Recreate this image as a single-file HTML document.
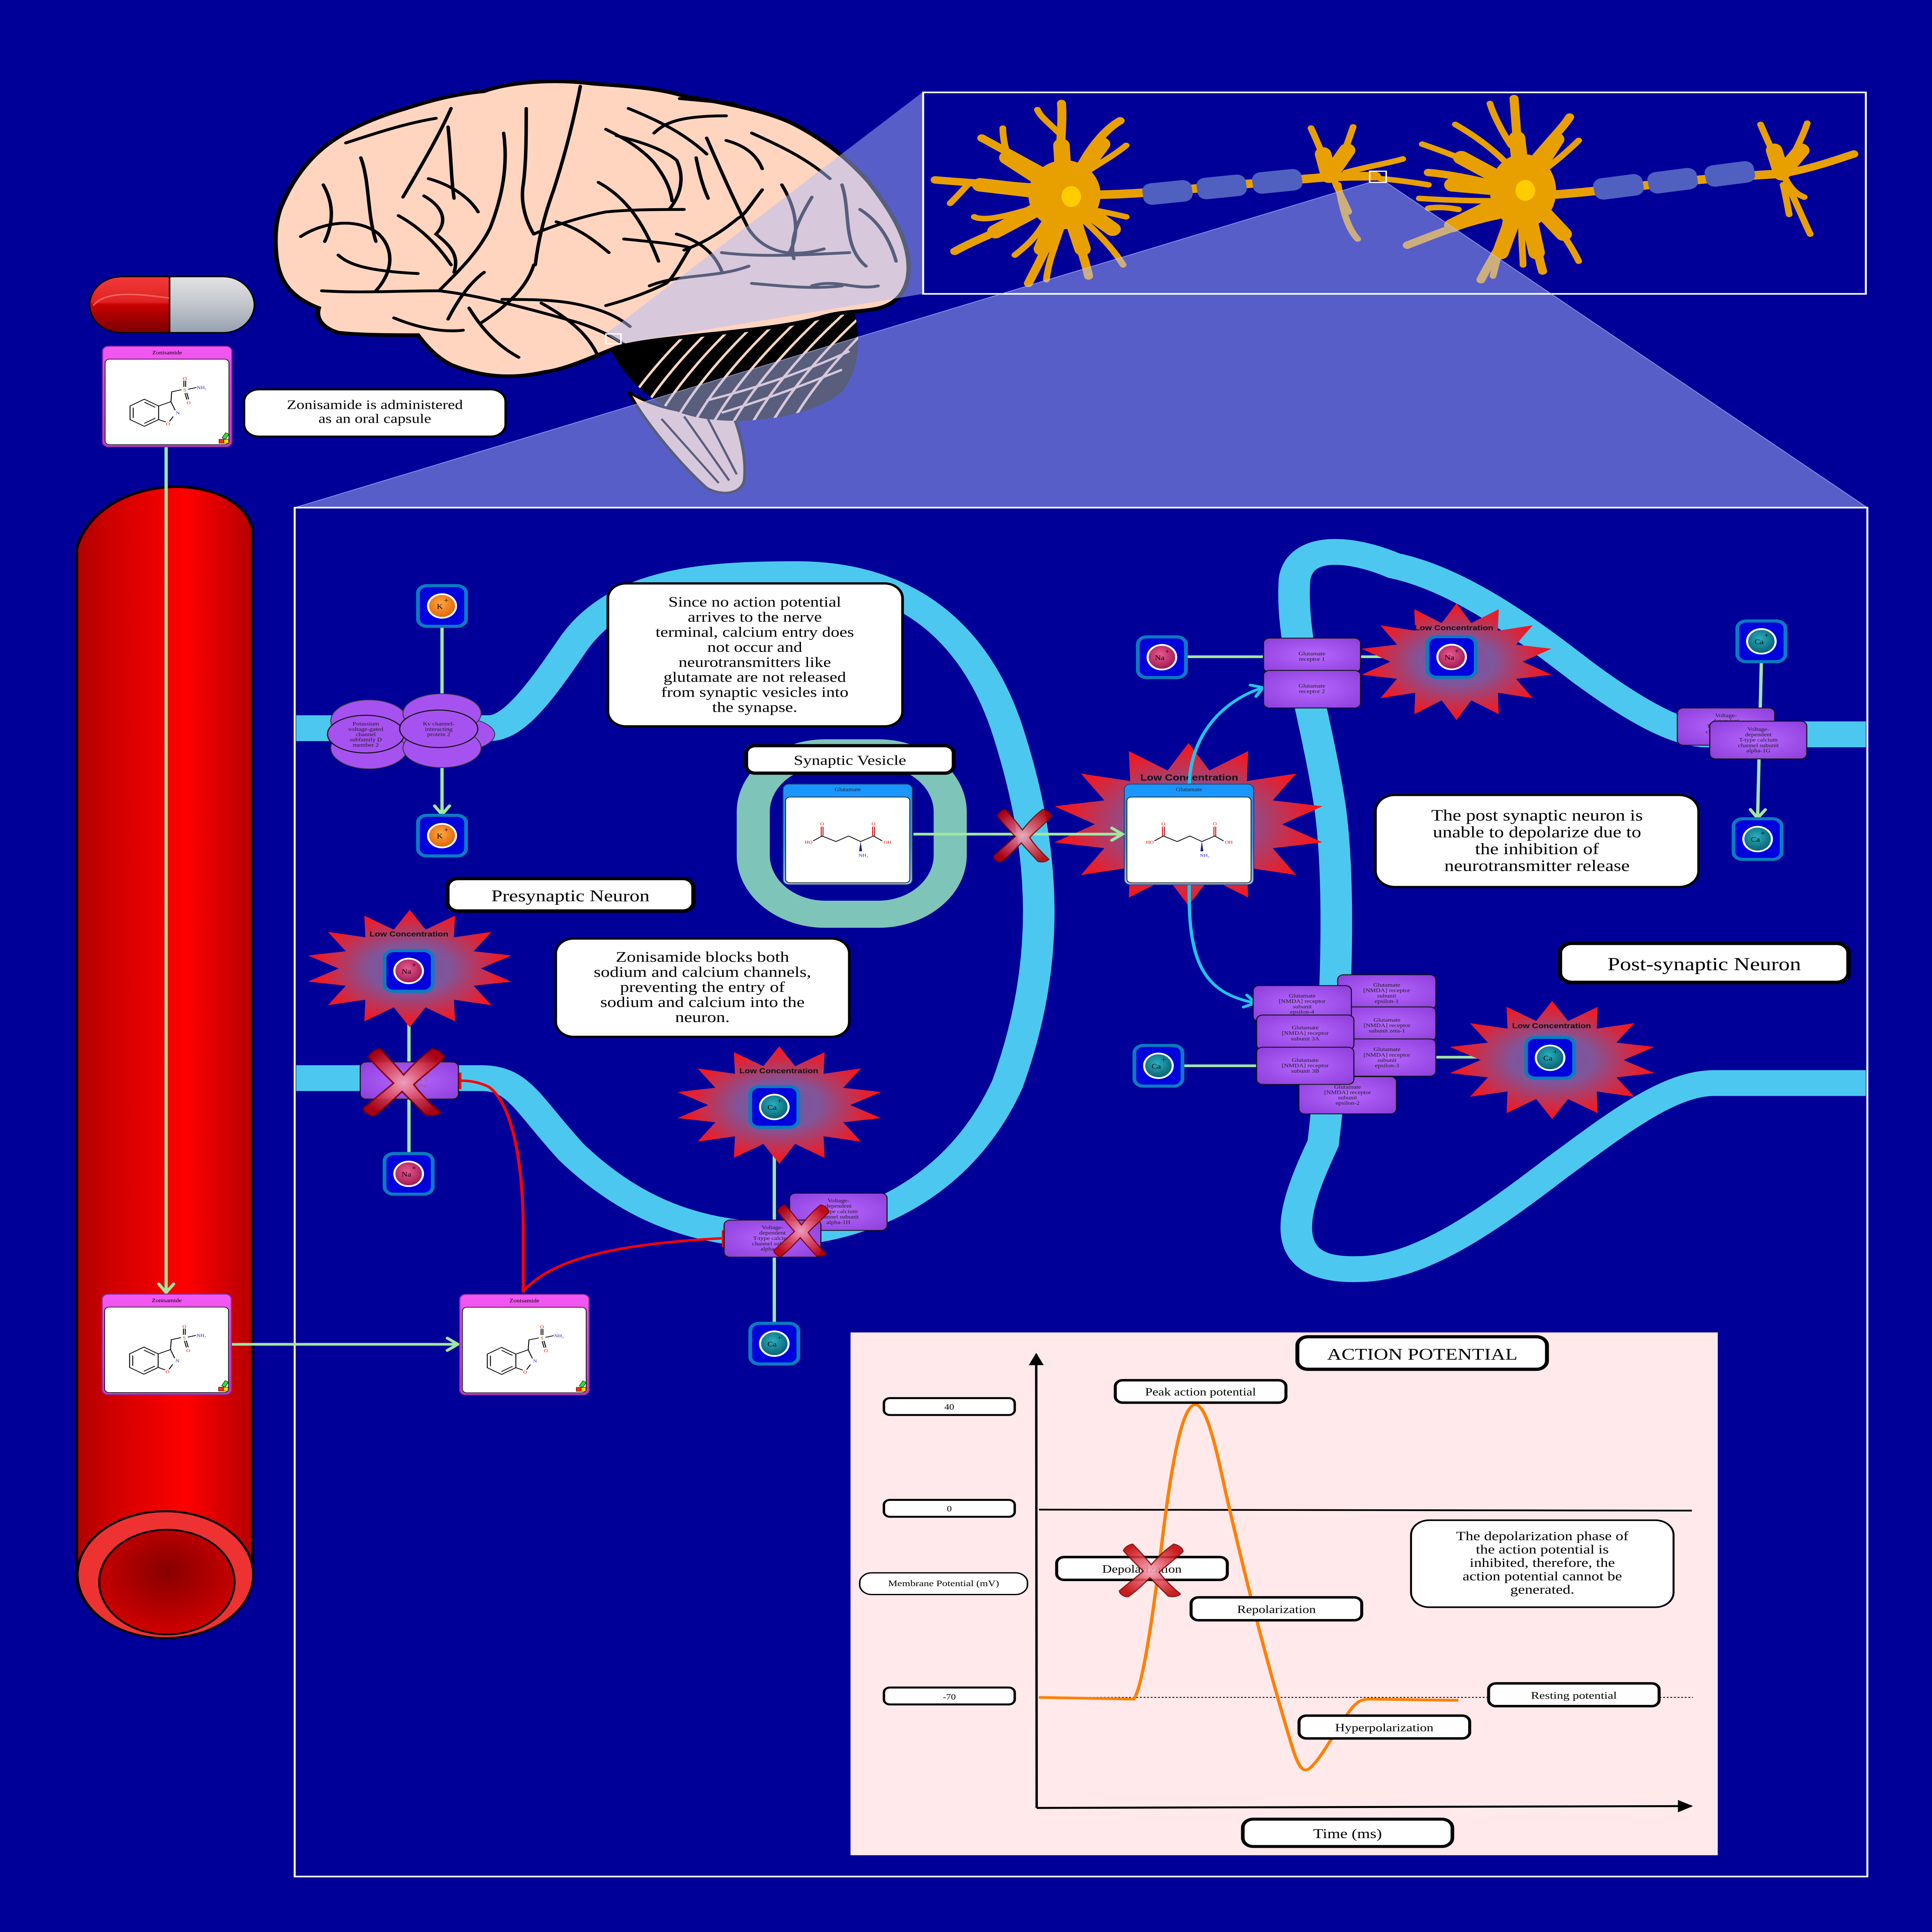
<!DOCTYPE html>
<html><head><meta charset="utf-8">
<style>
html,body{margin:0;padding:0;width:100%;height:100%;overflow:hidden;background:#000099;}
svg{position:absolute;left:0;top:0;width:100vw;height:100vh;display:block}
.s{font-family:"Liberation Serif",serif;text-anchor:middle;fill:#000}
.b{font-family:"Liberation Sans",sans-serif;font-weight:bold;text-anchor:middle;fill:#111}
.p{font-family:"Liberation Serif",serif;text-anchor:middle;fill:#1a1a1a;font-size:4.3px}
</style></head>
<body>
<svg xmlns="http://www.w3.org/2000/svg" xmlns:xlink="http://www.w3.org/1999/xlink" viewBox="0 0 1285 1568" preserveAspectRatio="none">
<defs>
  <radialGradient id="starG" cx="50%" cy="50%" r="50%">
    <stop offset="0" stop-color="#7555a2"/><stop offset="0.4" stop-color="#80559a"/><stop offset="1" stop-color="#ff1212"/>
  </radialGradient>
  <radialGradient id="naG" cx="45%" cy="40%" r="60%"><stop offset="0" stop-color="#e85a90"/><stop offset="1" stop-color="#a01850"/></radialGradient>
  <radialGradient id="kG" cx="45%" cy="40%" r="60%"><stop offset="0" stop-color="#ffa848"/><stop offset="1" stop-color="#e06400"/></radialGradient>
  <radialGradient id="caG" cx="45%" cy="40%" r="60%"><stop offset="0" stop-color="#2ab0c0"/><stop offset="1" stop-color="#086070"/></radialGradient>
  <radialGradient id="protG" cx="50%" cy="50%" r="65%"><stop offset="0" stop-color="#b668ff"/><stop offset="1" stop-color="#9040dc"/></radialGradient>
  <radialGradient id="xG" cx="50%" cy="50%" r="55%"><stop offset="0" stop-color="#f6a8b8"/><stop offset="0.4" stop-color="#e45a6a"/><stop offset="1" stop-color="#c20000"/></radialGradient>
  <linearGradient id="vesselG" x1="0" y1="0" x2="1" y2="0">
    <stop offset="0" stop-color="#b00000"/><stop offset="0.2" stop-color="#d00000"/><stop offset="0.62" stop-color="#ff0000"/><stop offset="1" stop-color="#b40000"/>
  </linearGradient>
  <radialGradient id="innerV" cx="50%" cy="40%" r="60%"><stop offset="0" stop-color="#880000"/><stop offset="1" stop-color="#d00000"/></radialGradient>
  <linearGradient id="capR" x1="0" y1="0" x2="0" y2="1"><stop offset="0" stop-color="#f23a3a"/><stop offset="0.45" stop-color="#e02222"/><stop offset="0.5" stop-color="#c80000"/><stop offset="1" stop-color="#780000"/></linearGradient>
  <linearGradient id="capG" x1="0" y1="0" x2="0" y2="1"><stop offset="0" stop-color="#e2e2e4"/><stop offset="0.5" stop-color="#c2c6cc"/><stop offset="1" stop-color="#96a0b0"/></linearGradient>
  <linearGradient id="zonG" x1="0" y1="0" x2="0" y2="1"><stop offset="0" stop-color="#f458f4"/><stop offset="1" stop-color="#cc3ccc"/></linearGradient>
  <linearGradient id="gluG" x1="0" y1="0" x2="0" y2="1"><stop offset="0" stop-color="#1496ff"/><stop offset="0.6" stop-color="#3c9cff"/><stop offset="1" stop-color="#9cc2ff"/></linearGradient>
  <marker id="mg" markerUnits="userSpaceOnUse" markerWidth="14" markerHeight="14" refX="11" refY="7" orient="auto"><path d="M4,2 L11,7 L4,12" fill="none" stroke="#a0e8a0" stroke-width="2.2" stroke-linecap="round"/></marker>
  <marker id="mc" markerUnits="userSpaceOnUse" markerWidth="14" markerHeight="14" refX="11" refY="7" orient="auto"><path d="M4,2 L11,7 L4,12" fill="none" stroke="#22c4ea" stroke-width="2.2" stroke-linecap="round"/></marker>
  <marker id="mb" markerUnits="userSpaceOnUse" markerWidth="12" markerHeight="12" refX="9" refY="6" orient="auto"><path d="M0,1 L10,6 L0,11 Z" fill="#000"/></marker>
  <symbol id="star" viewBox="0 0 100 100" preserveAspectRatio="none">
    <polygon points="50,0 57.6,16.9 71.7,5 71.2,23.4 89.1,18.8 80.6,35.3 98.7,38.9 84,50 98.7,61.1 80.6,64.7 89.1,81.2 71.2,76.6 71.7,95 57.6,83.1 50,100 42.4,83.1 28.3,95 28.8,76.6 10.9,81.2 19.4,64.7 1.3,61.1 16,50 1.3,38.9 19.4,35.3 10.9,18.8 28.8,23.4 28.3,5 42.4,16.9" fill="url(#starG)"/>
  </symbol>
  <symbol id="xm" viewBox="0 0 100 100" preserveAspectRatio="none">
    <path d="M22,2 C30,12 42,28 50,40 C60,26 72,12 84,2 C92,4 98,10 98,16 C86,30 70,44 62,54 C72,70 84,84 94,94 C90,99 82,100 76,98 C66,86 56,74 48,64 C38,76 26,90 14,100 C8,98 2,94 2,88 C14,76 28,62 38,52 C28,40 16,26 8,14 C10,8 16,3 22,2 Z" fill="url(#xG)" stroke="#7a0000" stroke-width="2" opacity="0.88"/>
  </symbol>
  <g id="ionNa"><rect x="-16" y="-16.5" width="32" height="33" rx="6" fill="#0000dd" stroke="#0a7cc0" stroke-width="2.5"/><ellipse rx="9.5" ry="10" fill="url(#naG)" stroke="#fff" stroke-width="1.4"/></g>
  <g id="ionK"><rect x="-16" y="-16.5" width="32" height="33" rx="6" fill="#0000dd" stroke="#0a7cc0" stroke-width="2.5"/><ellipse rx="9.3" ry="9.6" fill="url(#kG)" stroke="#fff" stroke-width="1.4"/></g>
  <g id="ionCa"><rect x="-16" y="-16.5" width="32" height="33" rx="6" fill="#0000dd" stroke="#0a7cc0" stroke-width="2.5"/><ellipse rx="9.5" ry="10" fill="url(#caG)" stroke="#fff" stroke-width="1.4"/></g>
  <g id="zonShape">
    <rect x="0.5" y="0.5" width="86" height="81.6" rx="4" fill="url(#zonG)" stroke="#8a2a9a" stroke-width="0.8"/>
    <rect x="2.2" y="11" width="82.4" height="69.4" rx="3" fill="#fff" stroke="#222" stroke-width="0.6"/>
    <g fill="none" stroke="#000" stroke-width="0.6">
      <polygon points="28.3,43.5 37.8,49 37.8,60 28.3,65.5 18.8,60 18.8,49"/>
      <path d="M20.9,50.3 L20.9,58.7 M28.3,45.9 L35.6,50.1 M35.6,58.9 L28.3,63.1"/>
      <path d="M37.8,49 L46,45.5 L48.8,52.5 M47.5,57.5 L45,61.5 M42.5,62 L37.8,60"/>
      <path d="M46,45.5 L46.5,37.5 L53,35.8"/>
      <path d="M54.6,33.5 L54.6,28.5 M55.8,33.5 L55.8,28.5 M55.3,38.5 L56.6,43.8 M56.5,38.3 L57.8,43.6 M57.5,35.4 L63,34"/>
    </g>
    <rect x="78" y="76" width="3.2" height="3.2" fill="#ff3300" stroke="#000" stroke-width="0.3"/>
    <rect x="81.2" y="76" width="3.2" height="3.2" fill="#ffdd00" stroke="#000" stroke-width="0.3"/>
    <rect x="81" y="71" width="2.6" height="4.8" fill="#33dd33" stroke="#000" stroke-width="0.3" transform="rotate(30 82.3 73.4)"/>
  </g>
  <g id="gluShape">
    <rect x="0.5" y="0.5" width="86" height="81.6" rx="4" fill="url(#gluG)" stroke="#2a3a6a" stroke-width="0.6"/>
    <rect x="2.2" y="11" width="82.6" height="69.6" rx="3" fill="#fff" stroke="#222" stroke-width="0.6"/>
    <g fill="none" stroke="#000" stroke-width="0.6">
      <path d="M20.5,46.6 L26.5,42.6 L35.7,47.1 L44.1,42.6 L52.1,47.1 L60.7,42.6 L66.5,46.6"/>
      <path d="M25.9,42.6 L25.9,35 M27.1,42.4 L27.1,35 M60.1,42.4 L60.1,35 M61.3,42.6 L61.3,35" stroke="#c00"/>
    </g>
    <polygon points="52.1,47.1 51.1,55 53.1,55" fill="#1a1a80"/>
  </g>
  <clipPath id="cbClip"><path d="M405 282 C450 268 520 262 568 252 C573 275 572 300 560 318 C540 338 500 345 470 340 C440 335 420 315 405 282 Z"/></clipPath>
</defs>

<rect x="0" y="0" width="1285" height="1568" fill="#000099"/>

<!-- BRAIN -->
<g>
  <path d="M418 318 C430 345 455 380 470 396 C480 403 493 401 495 390 C497 370 491 345 486 333 C470 338 440 335 418 318 Z" fill="#ffd5c0" stroke="#000" stroke-width="2"/>
  <path d="M440 340 L478 392 M455 338 L485 390 M470 338 L490 385" stroke="#000" stroke-width="1.5" fill="none"/>
  <path d="M405 282 C450 268 520 262 568 252 C573 275 572 300 560 318 C540 338 500 345 470 340 C440 335 420 315 405 282 Z" fill="#000"/>
  <g clip-path="url(#cbClip)" stroke="#ffd5c0" stroke-width="1.8" fill="none">
    <path d="M410 342 Q430 300 470 255"/><path d="M423 342 Q443 300 483 255"/><path d="M436 342 Q456 300 496 255"/><path d="M449 342 Q469 300 509 255"/><path d="M462 342 Q482 300 522 255"/><path d="M475 342 Q495 300 535 255"/><path d="M488 342 Q508 300 548 255"/><path d="M501 342 Q521 300 561 255"/><path d="M514 342 Q534 300 574 255"/><path d="M527 342 Q547 300 587 255"/><path d="M480 335 Q520 320 560 300"/><path d="M470 325 Q520 310 565 285"/>
  </g>
  <path d="M322 74 C340 66 370 64 395 68 C420 70 440 72 455 78 C490 85 515 92 530 102 C550 115 565 130 578 148 C592 170 602 190 604 210 C606 230 600 245 585 250 C570 254 560 252 545 258 C510 270 440 272 410 282 C390 292 375 300 362 302 C340 308 320 306 300 296 C290 290 283 280 278 272 C260 272 240 272 225 270 C214 266 210 258 212 250 C195 242 186 230 184 210 C182 190 184 175 188 165 C195 145 205 130 215 120 C230 105 250 95 270 88 C290 80 305 76 322 74 Z" fill="#ffd5c0" stroke="#000" stroke-width="3"/>
  <g fill="none" stroke="#000" stroke-width="2.3" stroke-linecap="round">
    <path d="M386 70 C382 95 376 125 368 155 C362 175 358 195 356 215"/>
    <path d="M355 215 C350 235 335 250 320 262"/>
    <path d="M300 88 C292 110 280 135 268 160"/>
    <path d="M335 108 C338 135 334 160 326 185 C318 205 305 220 292 236"/>
    <path d="M240 128 C246 148 244 172 250 196"/>
    <path d="M200 192 C215 180 238 176 252 190 C262 202 262 220 250 236"/>
    <path d="M214 236 C240 238 265 236 292 236"/>
    <path d="M292 236 C320 240 350 250 385 262 C400 268 410 275 418 282"/>
    <path d="M418 88 C438 98 455 108 470 125"/>
    <path d="M452 80 L488 84"/>
    <path d="M470 112 C480 140 488 162 498 186 C508 204 525 210 548 202"/>
    <path d="M398 148 C416 160 428 180 438 212"/>
    <path d="M410 110 C425 115 440 120 450 130 C456 145 452 160 445 170"/>
    <path d="M500 108 C518 118 536 128 552 145"/>
    <path d="M560 150 C566 172 560 200 576 216"/>
    <path d="M520 150 C530 170 532 190 525 205"/>
    <path d="M230 116 C250 108 270 100 290 96"/>
    <path d="M215 150 C222 165 222 180 216 196"/>
    <path d="M262 258 C278 266 294 270 308 268"/>
    <path d="M312 250 C320 266 330 280 345 290"/>
    <path d="M360 246 C378 258 392 272 398 290"/>
    <path d="M432 232 C452 222 476 226 498 216"/>
    <path d="M540 232 C556 226 570 236 584 232"/>
    <path d="M265 175 C280 185 292 200 300 215"/>
    <path d="M285 145 C300 150 312 160 318 172"/>
    <path d="M450 190 C465 195 475 205 480 220"/>
    <path d="M370 180 C385 185 395 195 405 205"/>
    <path d="M225 207 C232 215 245 220 278 222"/>
    <path d="M282 159 C295 168 298 180 290 190 C298 198 306 206 302 221"/>
    <path d="M298 103 C300 125 300 145 302 161"/>
    <path d="M350 88 C350 110 350 132 348 150 C346 165 350 180 355 190"/>
    <path d="M355 190 C370 182 390 175 403 172 C420 170 440 170 455 170"/>
    <path d="M322 221 C314 228 306 240 298 259"/>
    <path d="M334 243 C350 243 365 243 380 246 C398 250 410 256 419 265"/>
    <path d="M403 105 C415 112 427 121 435 132 C442 143 446 153 447 163"/>
    <path d="M435 108 C442 100 451 94 483 94"/>
    <path d="M463 128 C465 140 467 150 471 161"/>
    <path d="M483 114 C495 118 503 125 507 137"/>
    <path d="M415 194 C432 196 450 198 459 201 C452 215 448 225 443 230 C430 238 415 244 403 248"/>
    <path d="M507 154 C500 165 495 175 491 177 C480 188 470 196 455 203"/>
    <path d="M540 160 C530 180 525 195 528 210"/>
    <path d="M480 205 C500 208 520 208 565 205"/>
    <path d="M500 230 C520 232 540 235 560 232"/>
    <path d="M572 170 C585 180 592 195 596 212"/>
  </g>
</g>

<!-- CAPSULE -->
<path d="M112.8 224.5 L82 224.5 C66 224.5 59.6 238 59.6 247.3 C59.6 257 66 270 82 270 L112.8 270 Z" fill="url(#capR)" stroke="#000" stroke-width="1"/>
<path d="M112.8 224.5 L148 224.5 C162 224.5 169.2 238 169.2 247.3 C169.2 257 162 270 148 270 L112.8 270 Z" fill="url(#capG)" stroke="#000" stroke-width="1"/>
<path d="M62 248 C70 236 90 238 112.8 242" fill="none" stroke="#f88" stroke-width="1.2" opacity="0.6"/>

<!-- NEURONS -->
<g stroke="#e8a000" fill="none" stroke-linecap="round">
  <g stroke-width="11">
    <path d="M708 158 L706 118"/><path d="M708 158 L733 117"/><path d="M708 158 L670 128"/><path d="M708 158 L652 150"/>
    <path d="M708 158 L662 188"/><path d="M708 158 L693 202"/><path d="M708 158 L720 202"/><path d="M708 158 L740 186"/>
    <path d="M1013 155 L1009 112"/><path d="M1013 155 L1035 113"/><path d="M1013 155 L972 128"/><path d="M1013 155 L966 150"/>
    <path d="M1013 155 L966 183"/><path d="M1013 155 L998 205"/><path d="M1013 155 L1022 205"/><path d="M1013 155 L1040 190"/>
    <path d="M884 143 L880 125"/><path d="M884 143 L896 122"/><path d="M1185 141 L1180 122"/><path d="M1185 141 L1198 122"/>
  </g>
  <g stroke-width="6">
    <path d="M705 135 C705 115 707 100 706 84"/>
    <path d="M718 137 C725 120 735 105 745 98"/>
    <path d="M695 140 C680 130 665 120 653 112"/>
    <path d="M688 152 C670 150 640 148 622 146"/>
    <path d="M690 172 C670 185 648 195 635 204"/>
    <path d="M700 182 C698 200 690 215 684 230"/>
    <path d="M715 183 C718 200 722 212 724 224"/>
    <path d="M1010 128 C1009 110 1008 95 1007 80"/>
    <path d="M1020 130 C1030 115 1040 103 1044 95"/>
    <path d="M994 150 C980 145 960 141 950 140"/>
    <path d="M996 175 C975 180 955 190 936 199"/>
    <path d="M1005 182 C998 200 990 215 985 227"/>
    <path d="M1020 182 C1022 200 1024 212 1026 220"/>
    <path d="M1190 140 C1210 135 1225 128 1233 125"/>
  </g>
  <g stroke-width="4.5">
    <path d="M706 110 C698 100 692 95 690 89"/>
    <path d="M670 125 C668 118 667 110 667 104"/>
    <path d="M645 148 C640 155 636 160 632 165"/>
    <path d="M690 168 C670 175 655 180 648 176"/>
    <path d="M706 184 C700 205 697 215 696 227"/>
    <path d="M722 180 C735 195 742 205 747 215"/>
    <path d="M695 180 C688 195 680 202 675 207"/>
    <path d="M722 140 C735 130 742 125 749 118"/>
    <path d="M725 170 C735 172 742 174 749 176"/>
    <path d="M884 142 C880 125 875 112 872 104"/>
    <path d="M890 138 C895 120 898 110 900 103"/>
    <path d="M895 140 C910 135 925 132 933 129"/>
    <path d="M888 148 C892 160 896 168 897 172"/>
    <path d="M890 150 C893 170 896 185 903 194"/>
    <path d="M918 145 C928 146 940 148 950 150"/>
    <path d="M1005 118 C998 105 993 92 991 84"/>
    <path d="M1000 130 C990 118 978 108 968 101"/>
    <path d="M1027 138 C1038 128 1045 120 1050 114"/>
    <path d="M995 140 C975 130 958 122 946 117"/>
    <path d="M994 163 C975 163 955 162 944 161"/>
    <path d="M970 170 C962 168 955 168 950 169"/>
    <path d="M1012 184 C1012 198 1013 208 1013 215"/>
    <path d="M1030 175 C1040 190 1046 202 1050 212"/>
    <path d="M1002 178 C998 200 995 215 993 224"/>
    <path d="M1185 141 C1180 125 1174 110 1171 101"/>
    <path d="M1188 138 C1195 120 1200 108 1202 100"/>
    <path d="M1188 146 C1192 155 1196 158 1200 160"/>
    <path d="M1188 148 C1195 165 1200 180 1204 190"/>
    <path d="M1186 150 C1188 160 1189 168 1190 174"/>
  </g>
  <g stroke-width="7">
    <path d="M728 158 C760 158 800 152 880 144 C895 143 905 143 915 143"/>
    <path d="M1033 158 C1070 155 1120 145 1185 141"/>
  </g>
</g>
<ellipse cx="708" cy="158" rx="24" ry="28" fill="#e8a000"/>
<ellipse cx="1013" cy="155" rx="22" ry="30" fill="#e8a000"/>
<ellipse cx="712.5" cy="159.5" rx="6.5" ry="8.5" fill="#ffcc00"/>
<ellipse cx="1014.5" cy="154.5" rx="6.5" ry="8.5" fill="#ffcc00"/>
<g fill="#5060c0">
  <rect x="760" y="147.5" width="33" height="17.5" rx="6" transform="rotate(-7 776 156)"/>
  <rect x="796" y="143" width="33" height="17.5" rx="6" transform="rotate(-7 812 151.5)"/>
  <rect x="833" y="138.5" width="33" height="17.5" rx="6" transform="rotate(-7 849 147)"/>
  <rect x="1060" y="143" width="33" height="17.5" rx="6" transform="rotate(-9 1076 151.5)"/>
  <rect x="1096" y="138" width="33" height="17.5" rx="6" transform="rotate(-9 1112 146.5)"/>
  <rect x="1134" y="132.5" width="33" height="17.5" rx="6" transform="rotate(-9 1150 141)"/>
</g>

<!-- ZOOM POLYGONS -->
<polygon points="403,271 614,74.5 614,238.5 413,279" fill="rgb(176,188,247)" opacity="0.5"/>
<polygon points="911,148 922,148 1242,412 196,412" fill="rgb(176,188,247)" opacity="0.5"/>
<rect x="614" y="75" width="627" height="163.5" fill="none" stroke="#fff" stroke-width="1.3"/>
<rect x="911" y="139" width="11" height="9" fill="none" stroke="#fff" stroke-width="1"/>
<rect x="403" y="271" width="10" height="8" fill="none" stroke="#fff" stroke-width="1"/>
<line x1="196" y1="412" x2="911" y2="148" stroke="#c8d0ff" stroke-width="0.6" opacity="0.6"/>
<line x1="1242" y1="412" x2="922" y2="148" stroke="#c8d0ff" stroke-width="0.6" opacity="0.6"/>

<!-- MAIN BOX -->
<rect x="196" y="412" width="1046" height="1111" fill="#000099" stroke="#fff" stroke-width="1.3"/>

<!-- BLOOD VESSEL -->
<path d="M51 445 C58 415 85 396 116 395 C145 395 165 410 168 430 L168 1278 A58.5 51 0 0 1 51 1278 Z" fill="url(#vesselG)" stroke="#000" stroke-width="2"/>
<ellipse cx="110" cy="1278" rx="58.5" ry="51.5" fill="#ee3232" stroke="#000" stroke-width="1.6"/>
<ellipse cx="111" cy="1284" rx="45" ry="42.5" fill="url(#innerV)" stroke="#000" stroke-width="1.4"/>

<!-- TEXT: oral capsule -->
<rect x="162.3" y="316" width="174" height="38.3" rx="10" fill="#fff" stroke="#000" stroke-width="1.6"/>
<text class="s" x="249.3" y="332" font-size="10.6">Zonisamide is administered</text>
<text class="s" x="249.3" y="343.3" font-size="10.6">as an oral capsule</text>

<!-- MEMBRANES -->
<path d="M197 591 L325 591 C340 591 355 570 380 525 C410 470 470 466 530 466 C600 466 650 510 672 600 C695 690 700 780 670 880 C640 960 580 1000 510 1002 C450 1000 410 970 380 935 C350 895 345 875 320 875 L197 875" fill="none" stroke="#4cc8f0" stroke-width="21"/>
<path d="M1241 596 L1135 596 C1115 596 1085 575 1051 544 C1015 510 970 470 927 459 C900 445 865 440 861 470 C858 520 875 580 884 650 C893 720 888 850 880 928 C860 980 845 1032 903 1030 C945 1030 990 990 1034 949 C1075 912 1110 879 1140 879 L1241 879" fill="none" stroke="#4cc8f0" stroke-width="21"/>

<!-- VESICLE RING -->
<rect x="501" y="611" width="131" height="131" rx="48" fill="none" stroke="#7ec4b8" stroke-width="22"/>

<!-- GREEN CONNECTORS -->
<g fill="none" stroke="#a0e8a0" stroke-width="2.2">
  <line x1="110.5" y1="363" x2="110.5" y2="1049" marker-end="url(#mg)"/>
  <line x1="154" y1="1091" x2="304.5" y2="1091" marker-end="url(#mg)"/>
  <line x1="294" y1="508" x2="294" y2="565"/>
  <line x1="294" y1="618" x2="294" y2="661" marker-end="url(#mg)"/>
  <line x1="272" y1="936" x2="272" y2="805.5" marker-end="url(#mg)"/>
  <line x1="515" y1="1074" x2="515" y2="915" marker-end="url(#mg)"/>
  <line x1="789" y1="533" x2="840" y2="533"/>
  <line x1="905" y1="533" x2="948.5" y2="533" marker-end="url(#mg)"/>
  <line x1="1171.5" y1="537" x2="1169" y2="664" marker-end="url(#mg)"/>
  <line x1="787" y1="865" x2="836" y2="865"/>
  <line x1="955" y1="858" x2="1014" y2="858" marker-end="url(#mg)"/>
</g>

<!-- STARS -->
<use href="#star" xlink:href="#star" x="203" y="738.4" width="139" height="95.3"/>
<use href="#star" xlink:href="#star" x="448.8" y="849.2" width="139" height="95.3"/>
<use href="#star" xlink:href="#star" x="699" y="603" width="183" height="132"/>
<use href="#star" xlink:href="#star" x="904" y="489.7" width="129.5" height="94.7"/>
<use href="#star" xlink:href="#star" x="962.5" y="812.4" width="139.7" height="95.8"/>
<text class="b" x="272" y="760" font-size="5.8">Low Concentration</text>
<text class="b" x="518" y="871" font-size="5.8">Low Concentration</text>
<text class="b" x="791" y="633.5" font-size="7.2">Low Concentration</text>
<text class="b" x="967" y="511.5" font-size="5.8">Low Concentration</text>
<text class="b" x="1032" y="834.5" font-size="5.8">Low Concentration</text>

<!-- cyan arrows from glutamate -->
<path d="M791 636 C792 600 810 570 840 558" fill="none" stroke="#22c4ea" stroke-width="2.2" marker-end="url(#mc)"/>
<path d="M791 718 C790 780 800 806 835 814" fill="none" stroke="#22c4ea" stroke-width="2.2" marker-end="url(#mc)"/>

<!-- red inhibition -->
<g fill="none" stroke="#ff0000" stroke-width="2">
  <path d="M348 1049 L348 1000 C348 940 340 895 325 882 C318 878 312 877 306 877"/>
  <path d="M348 1048 C365 1025 400 1010 480 1005"/>
</g>
<line x1="305.5" y1="870.5" x2="305.5" y2="884" stroke="#ff0000" stroke-width="2.8"/>
<line x1="481.5" y1="998.5" x2="481.5" y2="1012" stroke="#ff0000" stroke-width="2.8"/>

<!-- ZONISAMIDE BOXES -->
<g transform="translate(67.7,280.5)"><use href="#zonShape" xlink:href="#zonShape"/>
  <text class="s" x="43.5" y="7" font-size="4.2">Zonisamide</text>
  <text class="s" x="50.6" y="55.8" font-size="3.6" style="fill:#2020c0">N</text>
  <text class="s" x="44" y="64.8" font-size="3.6" style="fill:#e00000">O</text>
  <text class="s" x="55.2" y="37.3" font-size="3.8" style="fill:#808000">S</text>
  <text class="s" x="55.2" y="28" font-size="3.6" style="fill:#e00000">O</text>
  <text class="s" x="57.8" y="47.5" font-size="3.6" style="fill:#e00000">O</text>
  <text class="s" x="66.5" y="35.3" font-size="3.6" style="fill:#2020c0">NH₂</text>
</g>
<g transform="translate(67.4,1049.8)"><use href="#zonShape" xlink:href="#zonShape"/>
  <text class="s" x="43.5" y="7" font-size="4.2">Zonisamide</text>
  <text class="s" x="50.6" y="55.8" font-size="3.6" style="fill:#2020c0">N</text>
  <text class="s" x="44" y="64.8" font-size="3.6" style="fill:#e00000">O</text>
  <text class="s" x="55.2" y="37.3" font-size="3.8" style="fill:#808000">S</text>
  <text class="s" x="55.2" y="28" font-size="3.6" style="fill:#e00000">O</text>
  <text class="s" x="57.8" y="47.5" font-size="3.6" style="fill:#e00000">O</text>
  <text class="s" x="66.5" y="35.3" font-size="3.6" style="fill:#2020c0">NH₂</text>
</g>
<g transform="translate(305.3,1050)"><use href="#zonShape" xlink:href="#zonShape"/>
  <text class="s" x="43.5" y="7" font-size="4.2">Zonisamide</text>
  <text class="s" x="50.6" y="55.8" font-size="3.6" style="fill:#2020c0">N</text>
  <text class="s" x="44" y="64.8" font-size="3.6" style="fill:#e00000">O</text>
  <text class="s" x="55.2" y="37.3" font-size="3.8" style="fill:#808000">S</text>
  <text class="s" x="55.2" y="28" font-size="3.6" style="fill:#e00000">O</text>
  <text class="s" x="57.8" y="47.5" font-size="3.6" style="fill:#e00000">O</text>
  <text class="s" x="66.5" y="35.3" font-size="3.6" style="fill:#2020c0">NH₂</text>
</g>

<!-- GLUTAMATE BOXES -->
<g transform="translate(520.3,635.9)"><use href="#gluShape" xlink:href="#gluShape"/>
  <text class="s" x="43.5" y="6.2" font-size="4.2" style="fill:#222">Glutamate</text>
  <text class="s" x="26.5" y="34" font-size="3.6" style="fill:#e00000">O</text>
  <text class="s" x="60.7" y="34" font-size="3.6" style="fill:#e00000">O</text>
  <text class="s" x="17.5" y="48.8" font-size="3.6" style="fill:#e00000">HO</text>
  <text class="s" x="70" y="48.8" font-size="3.6" style="fill:#e00000">OH</text>
  <text class="s" x="54" y="59.5" font-size="3.6" style="fill:#2020c0">NH₂</text>
</g>
<g transform="translate(747.3,635.9)"><use href="#gluShape" xlink:href="#gluShape"/>
  <text class="s" x="43.5" y="6.2" font-size="4.2" style="fill:#222">Glutamate</text>
  <text class="s" x="26.5" y="34" font-size="3.6" style="fill:#e00000">O</text>
  <text class="s" x="60.7" y="34" font-size="3.6" style="fill:#e00000">O</text>
  <text class="s" x="17.5" y="48.8" font-size="3.6" style="fill:#e00000">HO</text>
  <text class="s" x="70" y="48.8" font-size="3.6" style="fill:#e00000">OH</text>
  <text class="s" x="54" y="59.5" font-size="3.6" style="fill:#2020c0">NH₂</text>
</g>
<line x1="607.5" y1="677" x2="746.5" y2="677" stroke="#a0e8a0" stroke-width="2.2" marker-end="url(#mg)"/>

<!-- K CHANNEL -->
<g fill="#a652f0" stroke="#333" stroke-width="0.6">
  <ellipse cx="245.5" cy="585" rx="25.5" ry="17"/>
  <ellipse cx="245.5" cy="607" rx="25.5" ry="17"/>
  <ellipse cx="297" cy="596" rx="32" ry="15"/>
  <ellipse cx="294" cy="579" rx="26" ry="16"/>
  <ellipse cx="294" cy="607" rx="26" ry="16"/>
  <ellipse cx="243.3" cy="595.8" rx="25.5" ry="15.3" stroke="#111" stroke-width="0.8"/>
  <ellipse cx="291.8" cy="591.5" rx="26" ry="15.2" stroke="#111" stroke-width="0.8"/>
</g>
<text class="p" x="243.3" y="588.8">Potassium</text>
<text class="p" x="243.3" y="593.1">voltage-gated</text>
<text class="p" x="243.3" y="597.4">channel</text>
<text class="p" x="243.3" y="601.7">subfamily D</text>
<text class="p" x="243.3" y="606">member 2</text>
<text class="p" x="291.8" y="588.8">Kv channel-</text>
<text class="p" x="291.8" y="593.1">interacting</text>
<text class="p" x="291.8" y="597.4">protein 2</text>

<!-- PROTEIN BOXES -->
<g fill="url(#protG)" stroke="#111" stroke-width="0.7">
  <rect x="239.6" y="861.9" width="65.3" height="30.1" rx="4"/>
  <rect x="525.2" y="968.4" width="64.8" height="30.2" rx="4"/>
  <rect x="840.4" y="517.9" width="64.5" height="27.6" rx="4"/>
  <rect x="840.4" y="544.1" width="64.5" height="30.5" rx="4"/>
  <rect x="1115.6" y="574.6" width="64.8" height="30.2" rx="4"/>
</g>
<text class="p" x="272.2" y="873.5" style="fill:#b05080">Sodium channel</text>
<text class="p" x="272.2" y="877.9" style="fill:#b05080">protein type 5</text>
<text class="p" x="272.2" y="882.2" style="fill:#b05080">subunit alpha</text>
<text class="p" x="557.6" y="975.8">Voltage-</text>
<text class="p" x="557.6" y="980.2">dependent</text>
<text class="p" x="557.6" y="984.5">T-type calcium</text>
<text class="p" x="557.6" y="989">channel subunit</text>
<text class="p" x="557.6" y="993.3">alpha-1H</text>
<g fill="url(#protG)" stroke="#111" stroke-width="0.7"><rect x="481.6" y="990.2" width="64.4" height="30.1" rx="4"/></g>
<text class="p" x="513.8" y="997.5">Voltage-</text>
<text class="p" x="513.8" y="1002">dependent</text>
<text class="p" x="513.8" y="1006.3">T-type calcium</text>
<text class="p" x="513.8" y="1010.8">channel subunit</text>
<text class="p" x="513.8" y="1015">alpha-1G</text>
<text class="p" x="872.6" y="531.8">Glutamate</text>
<text class="p" x="872.6" y="536.2">receptor 1</text>
<text class="p" x="872.6" y="558">Glutamate</text>
<text class="p" x="872.6" y="562.4">receptor 2</text>
<text class="p" x="1148" y="582">Voltage-</text>
<text class="p" x="1148" y="586.4">dependent</text>
<text class="p" x="1148" y="590.8">T-type calcium</text>
<text class="p" x="1148" y="595.2">channel subunit</text>
<text class="p" x="1148" y="599.6">alpha-1H</text>
<g fill="url(#protG)" stroke="#111" stroke-width="0.7"><rect x="1137.2" y="585.3" width="64.5" height="30.6" rx="4"/></g>
<text class="p" x="1169.5" y="593.1">Voltage-</text>
<text class="p" x="1169.5" y="597.5">dependent</text>
<text class="p" x="1169.5" y="601.8">T-type calcium</text>
<text class="p" x="1169.5" y="606.3">channel subunit</text>
<text class="p" x="1169.5" y="610.6">alpha-1G</text>

<!-- NMDA -->
<g stroke="#111" stroke-width="0.7">
  <rect x="889.7" y="791.1" width="65.3" height="28" rx="4" fill="url(#protG)"/>
  <text class="p" x="922.3" y="800.8" stroke="none">Glutamate</text><text class="p" x="922.3" y="805.1" stroke="none">[NMDA] receptor</text><text class="p" x="922.3" y="809.5" stroke="none">subunit</text><text class="p" x="922.3" y="813.9" stroke="none">epsilon-1</text>
  <rect x="890" y="817.2" width="65" height="27.5" rx="4" fill="url(#protG)"/>
  <text class="p" x="922.5" y="829.1" stroke="none">Glutamate</text><text class="p" x="922.5" y="833.5" stroke="none">[NMDA] receptor</text><text class="p" x="922.5" y="837.9" stroke="none">subunit zeta-1</text>
  <rect x="890" y="843.2" width="65" height="30.2" rx="4" fill="url(#protG)"/>
  <text class="p" x="922.5" y="853" stroke="none">Glutamate</text><text class="p" x="922.5" y="857.5" stroke="none">[NMDA] receptor</text><text class="p" x="922.5" y="861.8" stroke="none">subunit</text><text class="p" x="922.5" y="866.2" stroke="none">epsilon-3</text>
  <rect x="863.9" y="873.8" width="64.9" height="30.2" rx="4" fill="url(#protG)"/>
  <text class="p" x="896.3" y="883.5" stroke="none">Glutamate</text><text class="p" x="896.3" y="887.9" stroke="none">[NMDA] receptor</text><text class="p" x="896.3" y="892.2" stroke="none">subunit</text><text class="p" x="896.3" y="896.6" stroke="none">epsilon-2</text>
  <rect x="833.5" y="799.9" width="65.3" height="29.1" rx="4" fill="url(#protG)"/>
  <text class="p" x="866.1" y="809.5" stroke="none">Glutamate</text><text class="p" x="866.1" y="813.9" stroke="none">[NMDA] receptor</text><text class="p" x="866.1" y="818.3" stroke="none">subunit</text><text class="p" x="866.1" y="822.6" stroke="none">epsilon-4</text>
  <rect x="835.8" y="823.8" width="64.7" height="28.2" rx="4" fill="url(#protG)"/>
  <text class="p" x="868.1" y="835.5" stroke="none">Glutamate</text><text class="p" x="868.1" y="839.9" stroke="none">[NMDA] receptor</text><text class="p" x="868.1" y="844.3" stroke="none">subunit 3A</text>
  <rect x="835.8" y="849.9" width="64.7" height="30.2" rx="4" fill="url(#protG)"/>
  <text class="p" x="868.1" y="861.8" stroke="none">Glutamate</text><text class="p" x="868.1" y="866.2" stroke="none">[NMDA] receptor</text><text class="p" x="868.1" y="870.5" stroke="none">subunit 3B</text>
</g>

<!-- IONS -->
<use href="#ionK" xlink:href="#ionK" x="294" y="491.8"/>
<use href="#ionK" xlink:href="#ionK" x="294" y="678.2"/>
<use href="#ionNa" xlink:href="#ionNa" x="271.8" y="788"/>
<use href="#ionNa" xlink:href="#ionNa" x="271.8" y="952.7"/>
<use href="#ionCa" xlink:href="#ionCa" x="515" y="898.4"/>
<use href="#ionCa" xlink:href="#ionCa" x="515" y="1090.5"/>
<use href="#ionNa" xlink:href="#ionNa" x="772.8" y="533.4"/>
<use href="#ionNa" xlink:href="#ionNa" x="965.5" y="533.2"/>
<use href="#ionCa" xlink:href="#ionCa" x="1171.5" y="520.5"/>
<use href="#ionCa" xlink:href="#ionCa" x="1169" y="681"/>
<use href="#ionCa" xlink:href="#ionCa" x="770.5" y="865"/>
<use href="#ionCa" xlink:href="#ionCa" x="1031" y="858.5"/>
<g>
  <text class="s" x="292.5" y="494" font-size="5.5">K</text><text class="s" x="296.8" y="489" font-size="5.5">+</text>
  <text class="s" x="292.5" y="680.4" font-size="5.5">K</text><text class="s" x="296.8" y="675.4" font-size="5.5">+</text>
  <text class="s" x="270.3" y="790.2" font-size="5.5">Na</text><text class="s" x="275.3" y="785" font-size="5.5">+</text>
  <text class="s" x="270.3" y="954.9" font-size="5.5">Na</text><text class="s" x="275.3" y="949.7" font-size="5.5">+</text>
  <text class="s" x="513.5" y="900.6" font-size="5.5">Ca</text><text class="s" x="518.5" y="895.4" font-size="5.5">+</text>
  <text class="s" x="513.5" y="1092.7" font-size="5.5">Ca</text><text class="s" x="518.5" y="1087.5" font-size="5.5">+</text>
  <text class="s" x="771.3" y="535.6" font-size="5.5">Na</text><text class="s" x="776.3" y="530.4" font-size="5.5">+</text>
  <text class="s" x="964" y="535.4" font-size="5.5">Na</text><text class="s" x="969" y="530.2" font-size="5.5">+</text>
  <text class="s" x="1170" y="522.7" font-size="5.5">Ca</text><text class="s" x="1175" y="517.5" font-size="5.5">+</text>
  <text class="s" x="1167.5" y="683.2" font-size="5.5">Ca</text><text class="s" x="1172.5" y="678" font-size="5.5">+</text>
  <text class="s" x="769" y="867.2" font-size="5.5">Ca</text><text class="s" x="774" y="862" font-size="5.5">+</text>
  <text class="s" x="1029.5" y="860.7" font-size="5.5">Ca</text><text class="s" x="1034.5" y="855.5" font-size="5.5">+</text>
</g>

<!-- RED X MARKS (diagram) -->
<use href="#xm" xlink:href="#xm" x="240.5" y="850" width="56" height="56"/>
<use href="#xm" xlink:href="#xm" x="514" y="977" width="38" height="43"/>
<use href="#xm" xlink:href="#xm" x="660" y="656" width="40" height="44"/>

<!-- TEXT BOXES -->
<rect x="404.3" y="473.5" width="196" height="116" rx="12" fill="#fff" stroke="#000" stroke-width="1.8"/>
<text class="s" x="502" y="492.4" font-size="11.6">Since no action potential</text>
<text class="s" x="502" y="504.6" font-size="11.6">arrives to the nerve</text>
<text class="s" x="502" y="516.8" font-size="11.6">terminal, calcium entry does</text>
<text class="s" x="502" y="529" font-size="11.6">not occur and</text>
<text class="s" x="502" y="541.2" font-size="11.6">neurotransmitters like</text>
<text class="s" x="502" y="553.4" font-size="11.6">glutamate are not released</text>
<text class="s" x="502" y="565.6" font-size="11.6">from synaptic vesicles into</text>
<text class="s" x="502" y="577.8" font-size="11.6">the synapse.</text>
<rect x="496.3" y="605.2" width="138" height="22.3" rx="6" fill="#fff" stroke="#000" stroke-width="2.6"/>
<text class="s" x="565.3" y="620.7" font-size="11.3">Synaptic Vesicle</text>
<rect x="297.6" y="713" width="163.6" height="26.4" rx="7" fill="#fff" stroke="#000" stroke-width="2.8"/>
<text class="s" x="379.4" y="731.4" font-size="13.3">Presynaptic Neuron</text>
<rect x="369.6" y="761.7" width="195.3" height="79.8" rx="12" fill="#fff" stroke="#000" stroke-width="1.8"/>
<text class="s" x="467.2" y="780.6" font-size="12">Zonisamide blocks both</text>
<text class="s" x="467.2" y="792.8" font-size="12">sodium and calcium channels,</text>
<text class="s" x="467.2" y="805" font-size="12">preventing the entry of</text>
<text class="s" x="467.2" y="817.2" font-size="12">sodium and calcium into the</text>
<text class="s" x="467.2" y="829.4" font-size="12">neuron.</text>
<rect x="914.8" y="645.2" width="215" height="74.7" rx="13" fill="#fff" stroke="#000" stroke-width="1.8"/>
<text class="s" x="1022.3" y="666" font-size="12.8">The post synaptic neuron is</text>
<text class="s" x="1022.3" y="679.6" font-size="12.8">unable to depolarize due to</text>
<text class="s" x="1022.3" y="693.2" font-size="12.8">the inhibition of</text>
<text class="s" x="1022.3" y="706.8" font-size="12.8">neurotransmitter release</text>
<rect x="1037.5" y="765.5" width="192" height="31.9" rx="8" fill="#fff" stroke="#000" stroke-width="3"/>
<text class="s" x="1133.5" y="787.5" font-size="14.9">Post-synaptic Neuron</text>

<!-- ACTION POTENTIAL PANEL -->
<rect x="565.7" y="1081.4" width="576.8" height="424.3" fill="#ffe9ea"/>
<line x1="689.5" y1="1467.3" x2="689.2" y2="1099" stroke="#000" stroke-width="1.6" marker-end="url(#mb)"/>
<line x1="689.5" y1="1467.3" x2="1125" y2="1465.8" stroke="#000" stroke-width="1.6" marker-end="url(#mb)"/>
<line x1="691" y1="1225.2" x2="1125.3" y2="1226" stroke="#000" stroke-width="1.4"/>
<line x1="691" y1="1377.6" x2="1126" y2="1377.6" stroke="#000" stroke-width="0.7" stroke-dasharray="1.2,1.2"/>
<path d="M691 1377.6 L754 1379 C760 1370 767 1310 773 1250 C780 1180 787 1140 795 1140 C802 1140 808 1170 815 1210 C830 1290 845 1360 860 1420 C864 1435 867 1438 870 1436 C878 1430 890 1400 900 1385 C904 1380 906 1379 912 1379 L970 1380" fill="none" stroke="#ff8000" stroke-width="2.2"/>
<g fill="#fff" stroke="#000">
  <rect x="862.9" y="1084.9" width="166" height="26.4" rx="7" stroke-width="2.6"/>
  <rect x="741.8" y="1120.2" width="113.5" height="18.2" rx="5" stroke-width="2"/>
  <rect x="587.9" y="1134.7" width="87" height="13.7" rx="4" stroke-width="1.6"/>
  <rect x="587.9" y="1217.3" width="87" height="13.7" rx="4" stroke-width="1.6"/>
  <rect x="571.8" y="1276.5" width="111.6" height="17.6" rx="8" stroke-width="1"/>
  <rect x="587.9" y="1369.6" width="87" height="13.7" rx="4" stroke-width="1.6"/>
  <rect x="702.8" y="1263.7" width="113.5" height="18.5" rx="5" stroke-width="2"/>
  <rect x="792.2" y="1296.4" width="113.5" height="18.6" rx="5" stroke-width="2"/>
  <rect x="864" y="1392.4" width="113.5" height="18.5" rx="5" stroke-width="2"/>
  <rect x="990.1" y="1366.2" width="113.4" height="18.5" rx="5" stroke-width="2"/>
  <rect x="826.6" y="1476.4" width="139.4" height="22.2" rx="7" stroke-width="2.4"/>
  <rect x="938.5" y="1233.8" width="174.6" height="70.6" rx="12" stroke-width="1.3"/>
</g>
<text class="s" x="946" y="1103.6" font-size="13.3">ACTION POTENTIAL</text>
<text class="s" x="798.5" y="1132.6" font-size="8.8">Peak action potential</text>
<text class="s" x="631.4" y="1144" font-size="6.5">40</text>
<text class="s" x="631.4" y="1226.6" font-size="6.5">0</text>
<text class="s" x="627.6" y="1287.4" font-size="7">Membrane Potential (mV)</text>
<text class="s" x="631.4" y="1379.4" font-size="6.5">-70</text>
<text class="s" x="759.5" y="1276.3" font-size="8.9">Depolarization</text>
<text class="s" x="849" y="1309.2" font-size="8.9">Repolarization</text>
<text class="s" x="920.7" y="1405.1" font-size="9">Hyperpolarization</text>
<text class="s" x="1046.8" y="1378.7" font-size="8.4">Resting potential</text>
<text class="s" x="896.3" y="1491.8" font-size="11">Time (ms)</text>
<text class="s" x="1025.8" y="1250" font-size="10.3">The depolarization phase of</text>
<text class="s" x="1025.8" y="1260.8" font-size="10.3">the action potential is</text>
<text class="s" x="1025.8" y="1271.6" font-size="10.3">inhibited, therefore, the</text>
<text class="s" x="1025.8" y="1282.6" font-size="10.3">action potential cannot be</text>
<text class="s" x="1025.8" y="1293.4" font-size="10.3">generated.</text>
<use href="#xm" xlink:href="#xm" x="743.7" y="1252.3" width="44" height="44"/>
</svg>
</body></html>
